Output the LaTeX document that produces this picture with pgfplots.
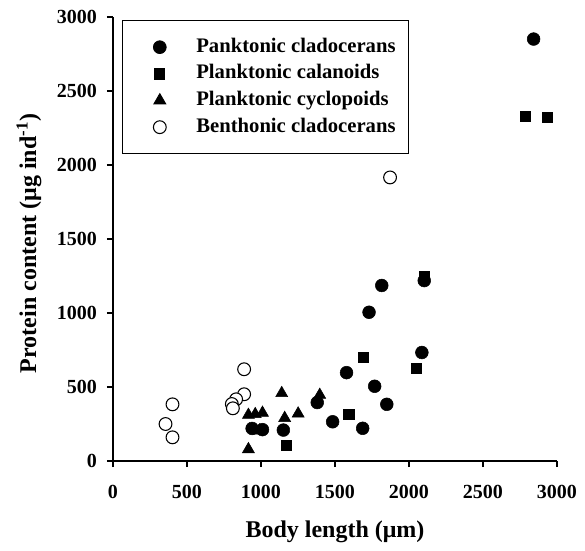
\documentclass[border=0pt]{standalone}
\usepackage{fontspec}
\setmainfont{Liberation Serif}
\usepackage{pgfplots}
\pgfplotsset{compat=1.18}
\begin{document}
\begin{tikzpicture}
\useasboundingbox (-84.75pt,-66.75pt) rectangle (354pt,345.75pt);
\begin{axis}[
  at={(0,0)}, anchor=south west,
  scale only axis, width=333pt, height=333pt,
  xmin=0, xmax=3000, ymin=0, ymax=3000,
  axis x line*=bottom, axis y line*=left,
  axis line style={line width=0.8pt},
  tick align=outside, major tick length=4.5pt,
  tick style={line width=0.8pt, black},
  xtick={0,500,...,3000}, ytick={0,500,...,3000},
  /pgf/number format/assume math mode=true,
  /pgf/number format/1000 sep={},
  tick label style={font=\bfseries\fontsize{15}{18}\selectfont},
  xticklabel style={yshift=-10pt},
  yticklabel style={xshift=-4pt},
  xlabel={Body length (μm)},
  ylabel={Protein content (μg ind\textsuperscript{-1})},
  label style={font=\bfseries\fontsize{18}{21}\selectfont},
  xlabel style={at={(axis description cs:0.5,-0.1712)}, anchor=base},
  ylabel style={at={(axis description cs:-0.1734,0.49)}, anchor=base},
  legend style={at={(0.02,0.993)}, anchor=north west, draw=black, line width=0.6pt,
    font=\bfseries\fontsize{15.5}{18}\selectfont, inner xsep=9.75pt, inner ysep=12.75pt,
    nodes={inner sep=0pt, text height=11pt, text depth=3.5pt},
    row sep=5.5pt, column sep=15pt},
  legend cell align=left,
  legend image code/.code={\path (0pt,0pt) (30pt,0pt); \draw[#1] plot coordinates {(18pt,0pt)};},
]
\addplot[only marks, mark=*, mark size=4.8pt, draw=black, fill=black] coordinates {
(2842,2851) (1816,1186) (1730,1005) (2103,1219) (2087,733) (1578,597) (1768,505)
(1850,383) (1484,265) (1687,221) (1380,395) (1151,209) (940,220) (1010,212)
};
\addlegendentry{Panktonic cladocerans}
\addplot[only marks, mark=square*, mark size=3.8pt, draw=black, fill=black] coordinates {
(2786,2328) (2932,2324) (2103,1246) (1689,699) (2048,629) (1593,316) (1173,108)
};
\addlegendentry{Planktonic calanoids}
\addplot[only marks, mark=triangle*, mark size=5.2pt, draw=black, fill=black] coordinates {
(1140,458) (1397,446) (1251,320) (1160,290) (915,311) (961,316) (1010,325) (990,205) (915,79)
};
\addlegendentry{Planktonic cyclopoids}
\addplot[only marks, mark=*, mark size=4.8pt, draw=black, fill=white, line width=0.8pt] coordinates {
(1872,1916) (886,620) (886,451) (832,417) (803,385) (810,356) (402,383) (355,250) (402,160)
};
\addlegendentry{Benthonic cladocerans}
\end{axis}
\end{tikzpicture}
\end{document}
